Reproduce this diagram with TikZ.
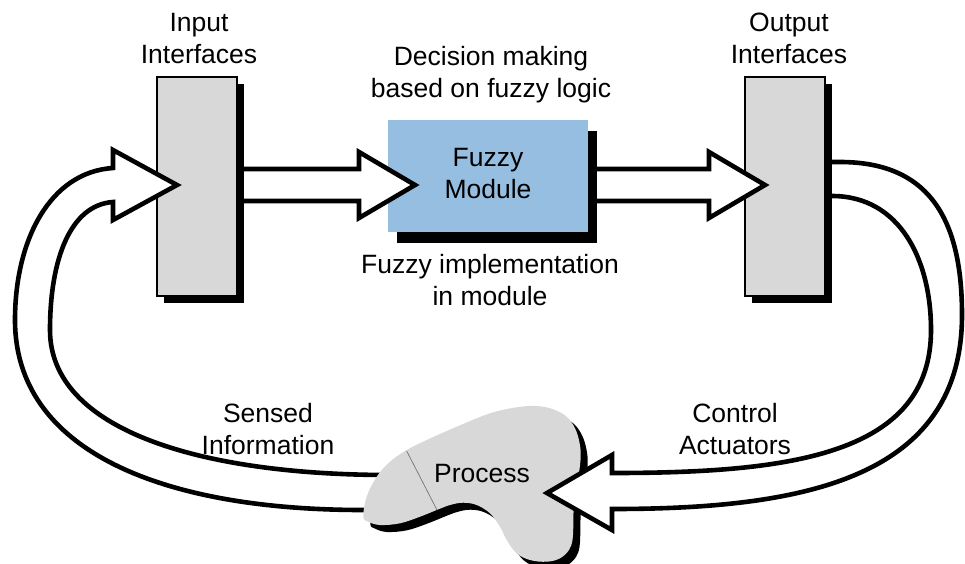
\documentclass[tikz,border=0pt]{standalone}
\usepackage{fontspec}
\setmainfont{Liberation Sans}
\definecolor{boxgray}{RGB}{216,216,216}
\definecolor{fuzzyblue}{RGB}{150,190,225}
\begin{document}
\begin{tikzpicture}[x=1pt,y=-1pt,
  font=\fontsize{26.5}{31.5}\selectfont,
  ifbox/.style={draw=black, line width=1.5pt, fill=boxgray, minimum width=80pt, minimum height=219pt, inner sep=0pt},
  fzbox/.style={fill=fuzzyblue, minimum width=200pt, minimum height=112pt, inner sep=0pt},
  lbl/.style={anchor=base, align=center, inner sep=0pt},
  fatfill/.style={fill=white},
  fatline/.style={draw=black, line width=4.6pt, line join=miter, miter limit=10}]
\useasboundingbox (0,0) rectangle (965,563);

% interface boxes with shadows
\fill[black] (164,84) rectangle (244,303);
\node[ifbox] (in) at (197,186.5) {};
\fill[black] (752,84) rectangle (832,303);
\node[ifbox] (out) at (785,186.5) {};
% fuzzy module
\fill[black] (397,131) rectangle (597,243);
\node[fzbox] (fz) at (488,176) {};
\node[lbl] (fzt) at (488,198) {Fuzzy\\Module};

% labels (anchor = baseline of last line)
\node[lbl] (lin) at (199,63) {Input\\Interfaces};
\node[lbl] (lout) at (789,63) {Output\\Interfaces};
\node[lbl] (ldec) at (491,97) {Decision making\\based on fuzzy logic};
\node[lbl] (limp) at (490,305) {Fuzzy implementation\\in module};
\node[lbl] (lsen) at (268,454) {Sensed\\Information};
\node[lbl] (lact) at (735,454) {Control\\Actuators};

% sensed information arrow (process -> input)
\coordinate (s1) at (177,185);
\fill[fatfill] (390,510) -- (363,510) .. controls (160,510) and (15,450) .. (15,320)
  .. controls (15,240) and (50,172) .. (113,168) -- (113,150) -- (s1) -- (113,220) -- (113,202)
  .. controls (70,205) and (50,260) .. (50,330) .. controls (50,430) and (200,475) .. (390,475) -- cycle;
\draw[fatline] (390,510) -- (363,510) .. controls (160,510) and (15,450) .. (15,320)
  .. controls (15,240) and (50,172) .. (113,168) -- (113,150) -- (s1) -- (113,220) -- (113,202)
  .. controls (70,205) and (50,260) .. (50,330) .. controls (50,430) and (200,475) .. (390,475);

% process blob
\begin{scope}[shift={(7,7)}]
\fill[black] plot[smooth cycle, tension=0.6] coordinates {
 (363.3,516.7) (366.7,496.7) (376.7,476.7) (390,461.7) (406.7,450) (426.7,440) (456.7,426.7)
 (490,413.3) (516.7,407.3) (536.7,406) (553.3,409.3) (566.7,416.7) (575,428.3) (579.3,441.7)
 (580.7,456.7) (578,480) (574,503) (573.3,526.7) (572.5,540) (569,550) (560,558.3) (546.7,561.7)
 (530,560) (516.7,553.3) (506.7,540) (500,526.7) (490,513.3) (476.7,505) (463.3,502.7) (450,505)
 (436.7,510) (420,516.7) (400,523.3) (380,525) (368.3,521.7)};
\end{scope}
\fill[boxgray] plot[smooth cycle, tension=0.6] coordinates {
 (363.3,516.7) (366.7,496.7) (376.7,476.7) (390,461.7) (406.7,450) (426.7,440) (456.7,426.7)
 (490,413.3) (516.7,407.3) (536.7,406) (553.3,409.3) (566.7,416.7) (575,428.3) (579.3,441.7)
 (580.7,456.7) (578,480) (574,503) (573.3,526.7) (572.5,540) (569,550) (560,558.3) (546.7,561.7)
 (530,560) (516.7,553.3) (506.7,540) (500,526.7) (490,513.3) (476.7,505) (463.3,502.7) (450,505)
 (436.7,510) (420,516.7) (400,523.3) (380,525) (368.3,521.7)};
\coordinate (pa) at (406.7,451);
\coordinate (pb) at (437,510);
\draw[black!55, line width=0.7pt] (pa) -- (pb);
\node[inner sep=0pt, anchor=base] (proc) at (482,482) {Process};

% input -> fuzzy arrow
\coordinate (a1t) at (244,185);
\coordinate (a1h) at (415,185);
\fill[fatfill] (a1t) ++(0,-16) -- (359,169) -- (359,152) -- (a1h) -- (359,218) -- (359,201) -- (244,201) -- cycle;
\draw[fatline] (a1t) ++(0,-16) -- (359,169) -- (359,152) -- (a1h) -- (359,218) -- (359,201) -- (244,201);

% fuzzy -> output arrow
\coordinate (a2t) at (597,185);
\coordinate (a2h) at (765,185);
\fill[fatfill] (a2t) ++(0,-16) -- (709,169) -- (709,152) -- (a2h) -- (709,218) -- (709,201) -- (597,201) -- cycle;
\draw[fatline] (a2t) ++(0,-16) -- (709,169) -- (709,152) -- (a2h) -- (709,218) -- (709,201) -- (597,201);

% control actuators arrow (output -> process)
\coordinate (c1) at (547,493);
\fill[fatfill] (832,162) -- (840,162) .. controls (930,162) and (962,220) .. (962,315)
  .. controls (962,480) and (800,509) .. (612,509) -- (612,530) -- (c1) -- (612,455) -- (612,473)
  .. controls (790,473) and (931,455) .. (931,330) .. controls (931,260) and (900,196) .. (832,196) -- cycle;
\draw[fatline] (832,162) -- (840,162) .. controls (930,162) and (962,220) .. (962,315)
  .. controls (962,480) and (800,509) .. (612,509) -- (612,530) -- (c1) -- (612,455) -- (612,473)
  .. controls (790,473) and (931,455) .. (931,330) .. controls (931,260) and (900,196) .. (832,196);
\end{tikzpicture}
\end{document}
